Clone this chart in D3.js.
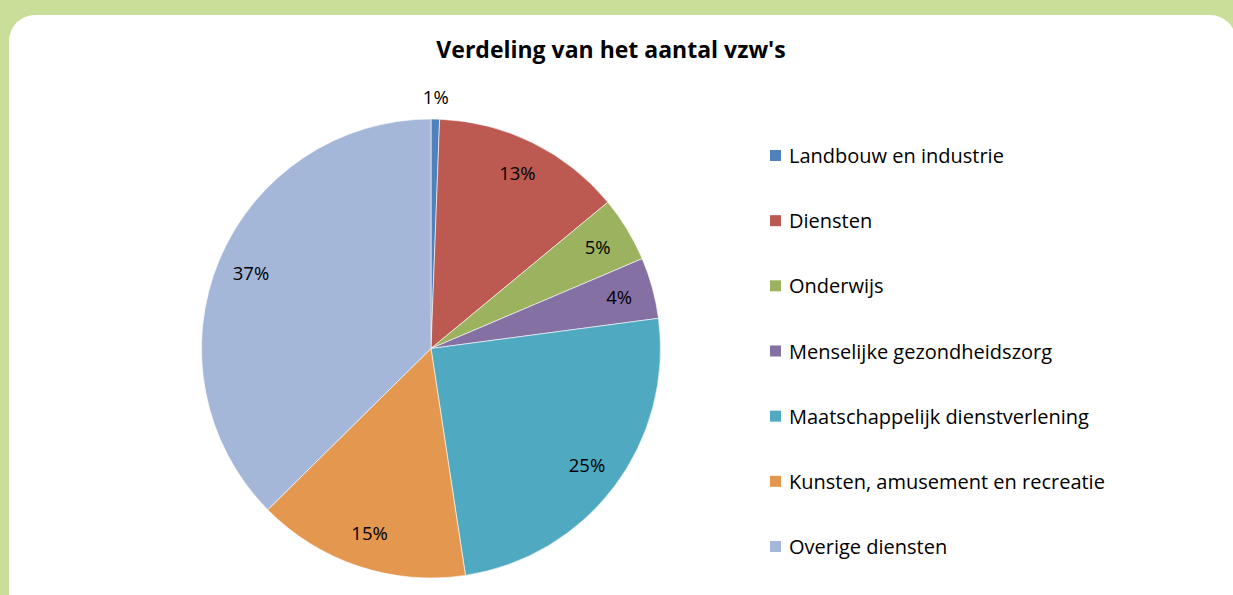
<!DOCTYPE html>
<html>
<head>
<meta charset="utf-8">
<script src="https://cdn.jsdelivr.net/npm/d3@7"></script>
<style>
    html, body { margin: 0; padding: 0; background: #c9df99; }
    svg { display: block; }
</style>
</head>
<body>
<div id="chart"></div>
<script>
// Chart data (percentages)
const categories = [
    'Landbouw en industrie',
    'Diensten',
    'Onderwijs',
    'Menselijke gezondheidszorg',
    'Maatschappelijk dienstverlening',
    'Kunsten, amusement en recreatie',
    'Overige diensten'
];
const shares = [0.6, 13.4, 4.6, 4.3, 24.7, 15.0, 37.4];
const sliceColors = ['#4f81bd', '#bc5a52', '#9bb35f', '#8470a3', '#4fa9c0', '#e4974f', '#a5b7d8'];
const title = "Verdeling van het aantal vzw's";

const width = 1233,
    height = 595,
    cx = 431,
    cy = 348.5,
    radius = 229.5,
    font = '"Open Sans", Lato, sans-serif';

const svg = d3.select('#chart')
            .append('svg')
            .attr('width', width)
            .attr('height', height);

// Background: green frame with white rounded panel
svg.append('rect')
    .attr('width', width)
    .attr('height', height)
    .attr('fill', '#c9df99');
svg.append('rect')
    .attr('x', 9)
    .attr('y', 15)
    .attr('width', 1227)
    .attr('height', 640)
    .attr('rx', 26)
    .attr('fill', '#ffffff');

svg.append('text')
    .attr('x', 611)
    .attr('y', 58)
    .attr('text-anchor', 'middle')
    .style('font-family', font)
    .style('font-size', '23px')
    .style('font-weight', 'bold')
    .attr('fill', '#000')
    .text(title);

const data = categories.map((c, i) => ({ name: c, value: shares[i], color: sliceColors[i] }));
const total = d3.sum(shares);

const pie = d3.pie()
            .sort(null)
            .value(d => d.value);
const arc = d3.arc()
            .innerRadius(0)
            .outerRadius(radius);
const labelArc = d3.arc()
            .innerRadius(radius * 0.85)
            .outerRadius(radius * 0.85);
const outerArc = d3.arc()
            .innerRadius(radius + 22)
            .outerRadius(radius + 22);

const g = svg.append('g')
            .attr('transform', `translate(${cx}, ${cy})`);

const arcs = pie(data);

g.selectAll('path')
    .data(arcs)
    .enter()
    .append('path')
    .attr('d', arc)
    .attr('fill', d => d.data.color)
    .attr('stroke', '#ffffff')
    .attr('stroke-width', 0.6);

// Small slices get their label outside the pie
g.selectAll('text.pct')
    .data(arcs)
    .enter()
    .append('text')
    .attr('class', 'pct')
    .attr('transform', d => {
        const p = d.data.value < 2 ? outerArc.centroid(d) : labelArc.centroid(d);
        return `translate(${p[0]}, ${p[1]})`;
    })
    .attr('text-anchor', 'middle')
    .attr('dy', '0.35em')
    .style('font-family', font)
    .style('font-size', '18.5px')
    .attr('fill', '#000')
    .text(d => `${Math.round(d.data.value / total * 100)}%`);

// Legend
const legendY = d3.scalePoint()
                .domain(categories)
                .range([156, 547]);

const legend = svg.append('g')
                .selectAll('g')
                .data(data)
                .enter()
                .append('g')
                .attr('transform', d => `translate(770, ${legendY(d.name)})`);

legend.append('rect')
    .attr('x', 0)
    .attr('y', -6)
    .attr('width', 11)
    .attr('height', 11)
    .attr('fill', d => d.color);

legend.append('text')
    .attr('x', 19)
    .attr('dy', '0.35em')
    .style('font-family', font)
    .style('font-size', '20px')
    .attr('fill', '#000')
    .text(d => d.name);
</script>
</body>
</html>
